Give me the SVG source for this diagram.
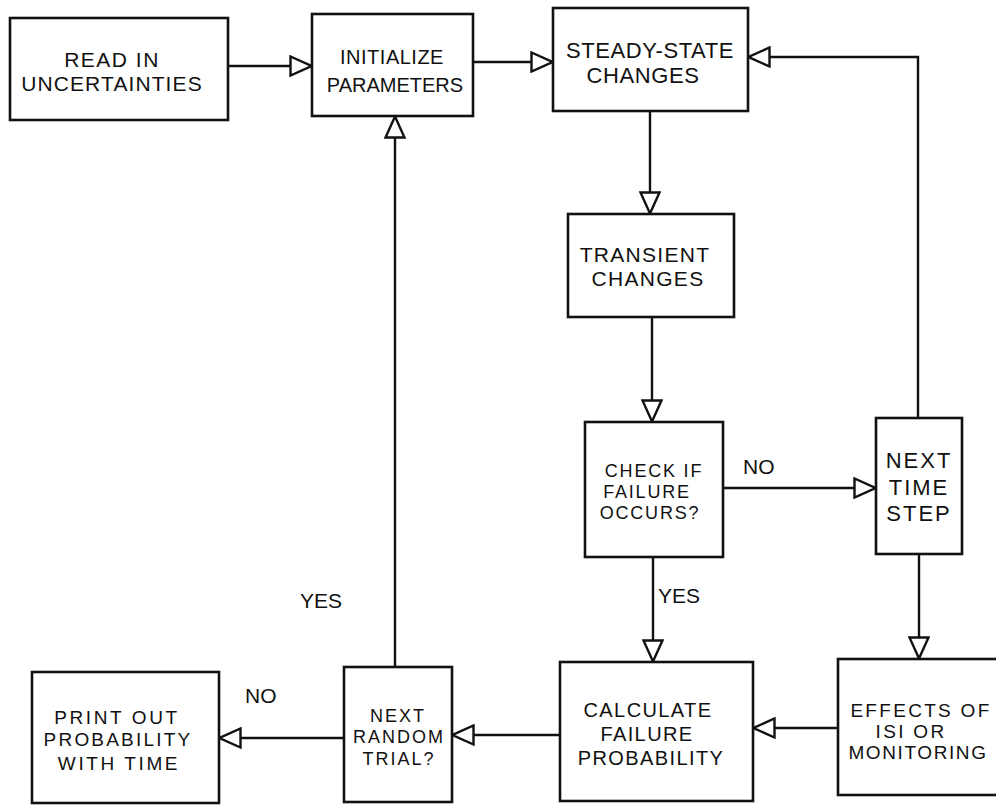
<svg xmlns="http://www.w3.org/2000/svg" width="996" height="806" viewBox="0 0 996 806">
<style>
  .box{fill:#fff;stroke:#111;stroke-width:2.6}
  .t{font-family:"Liberation Sans",Arial,sans-serif;fill:#111;text-anchor:middle}
  .lbl{font-family:"Liberation Sans",Arial,sans-serif;fill:#111;font-size:21px}
  .c{fill:none;stroke:#111;stroke-width:2.4}
</style>
<defs>
  <marker id="arr" viewBox="0 0 24 22" refX="23" refY="11" markerWidth="24" markerHeight="22" markerUnits="userSpaceOnUse" orient="auto">
    <path d="M1.5,1.5 L22.5,11 L1.5,20.5 Z" fill="#fff" stroke="#111" stroke-width="2.4"/>
  </marker>
</defs>
<rect width="996" height="806" fill="#fff"/>

<g id="connectors">
  <line class="c" x1="228" y1="66" x2="312" y2="66" marker-end="url(#arr)"/>
  <line class="c" x1="473" y1="62" x2="553" y2="62" marker-end="url(#arr)"/>
  <line class="c" x1="650" y1="111" x2="650" y2="214" marker-end="url(#arr)"/>
  <line class="c" x1="652" y1="317" x2="652" y2="422" marker-end="url(#arr)"/>
  <line class="c" x1="723" y1="488" x2="876" y2="488" marker-end="url(#arr)"/>
  <line class="c" x1="653" y1="557" x2="653" y2="662" marker-end="url(#arr)"/>
  <path class="c" d="M918,418 V57 H748" marker-end="url(#arr)"/>
  <line class="c" x1="919" y1="554" x2="919" y2="659" marker-end="url(#arr)"/>
  <line class="c" x1="838" y1="728" x2="753" y2="728" marker-end="url(#arr)"/>
  <line class="c" x1="560" y1="735" x2="452" y2="735" marker-end="url(#arr)"/>
  <line class="c" x1="344" y1="738" x2="219" y2="738" marker-end="url(#arr)"/>
  <line class="c" x1="395" y1="667" x2="395" y2="116" marker-end="url(#arr)"/>
</g>

<g id="read-in">
  <rect class="box" x="10" y="18" width="218" height="102"/>
  <text class="t" x="112" y="67" font-size="21" letter-spacing="1.5">READ IN</text>
  <text class="t" x="112" y="91" font-size="21" letter-spacing="1.1">UNCERTAINTIES</text>
</g>
<g id="initialize">
  <rect class="box" x="312" y="14" width="161" height="102"/>
  <text class="t" x="392" y="64" font-size="20" letter-spacing="0.5">INITIALIZE</text>
  <text class="t" x="395" y="92" font-size="20">PARAMETERS</text>
</g>
<g id="steady-state">
  <rect class="box" x="553" y="8" width="195" height="103"/>
  <text class="t" x="650" y="58" font-size="22" letter-spacing="0.6">STEADY-STATE</text>
  <text class="t" x="643" y="83" font-size="22" letter-spacing="0.6">CHANGES</text>
</g>
<g id="transient">
  <rect class="box" x="568" y="214" width="166" height="103"/>
  <text class="t" x="645" y="262" font-size="21" letter-spacing="1.3">TRANSIENT</text>
  <text class="t" x="648" y="286" font-size="21" letter-spacing="1.3">CHANGES</text>
</g>
<g id="check">
  <rect class="box" x="585" y="422" width="138" height="135"/>
  <text class="t" x="654" y="477" font-size="18" letter-spacing="1.8">CHECK IF</text>
  <text class="t" x="647" y="498" font-size="18" letter-spacing="1.8">FAILURE</text>
  <text class="t" x="650" y="519" font-size="18" letter-spacing="1.8">OCCURS?</text>
</g>
<g id="next-time">
  <rect class="box" x="876" y="418" width="86" height="136"/>
  <text class="t" x="919" y="468" font-size="22" letter-spacing="2">NEXT</text>
  <text class="t" x="919" y="495" font-size="22" letter-spacing="2">TIME</text>
  <text class="t" x="919" y="521" font-size="22" letter-spacing="2">STEP</text>
</g>
<g id="calculate">
  <rect class="box" x="560" y="662" width="193" height="139"/>
  <text class="t" x="648" y="717" font-size="20" letter-spacing="1.4">CALCULATE</text>
  <text class="t" x="647" y="741" font-size="20" letter-spacing="1.4">FAILURE</text>
  <text class="t" x="651" y="765" font-size="20" letter-spacing="1.4">PROBABILITY</text>
</g>
<g id="effects">
  <rect class="box" x="838" y="659" width="180" height="136"/>
  <text class="t" x="921" y="717" font-size="19" letter-spacing="2.3">EFFECTS OF</text>
  <text class="t" x="911" y="738" font-size="19" letter-spacing="2.3">ISI OR</text>
  <text class="t" x="918" y="759" font-size="19" letter-spacing="1.6">MONITORING</text>
</g>
<g id="next-random">
  <rect class="box" x="344" y="667" width="108" height="135"/>
  <text class="t" x="398" y="722" font-size="18" letter-spacing="2">NEXT</text>
  <text class="t" x="399" y="743" font-size="18" letter-spacing="2">RANDOM</text>
  <text class="t" x="399" y="765" font-size="18" letter-spacing="2">TRIAL?</text>
</g>
<g id="print-out">
  <rect class="box" x="32" y="672" width="187" height="131"/>
  <text class="t" x="117" y="724" font-size="19" letter-spacing="2.6">PRINT OUT</text>
  <text class="t" x="118" y="746" font-size="19" letter-spacing="2.2">PROBABILITY</text>
  <text class="t" x="119" y="770" font-size="19" letter-spacing="2.6">WITH TIME</text>
</g>

<g id="labels">
  <text class="lbl" x="743" y="474">NO</text>
  <text class="lbl" x="658" y="603" font-size="22">YES</text>
  <text class="lbl" x="300" y="608" font-size="22">YES</text>
  <text class="lbl" x="245" y="703">NO</text>
</g>
</svg>
